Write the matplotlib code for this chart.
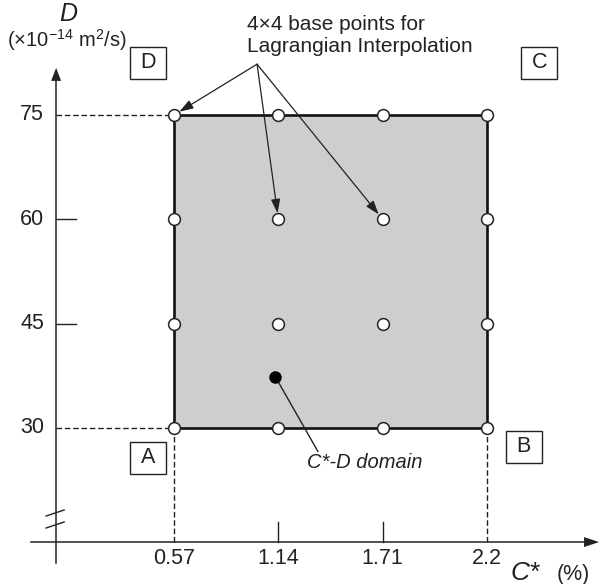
import numpy as np
import matplotlib.pyplot as plt
from matplotlib.patches import Rectangle, FancyArrow

plt.rcParams['font.family'] = ['Liberation Sans', 'DejaVu Sans']
plt.rcParams['mathtext.fontset'] = 'custom'
plt.rcParams['mathtext.rm'] = 'Liberation Sans'
plt.rcParams['mathtext.it'] = 'Liberation Sans:italic'
plt.rcParams['mathtext.default'] = 'regular'

# grid of base points (C* drawn at equal spacing, labelled with the real values)
c_pos = [0, 1, 2, 3]
c_labels = ['0.57', '1.14', '1.71', '2.2']
d_values = [30, 45, 60, 75]
d_labels = ['30', '45', '60', '75']

# the single point inside the domain
dot_c = 0.97
dot_d = 37.4

corner_names = ['A', 'B', 'C', 'D']
corner_c = [-0.25, 3.35, 3.5, -0.25]
corner_d = [25.7, 27.3, 82.5, 82.5]

INK = '#222222'

fig = plt.figure(figsize=(6, 5.84), dpi=100)
ax = fig.add_axes([0, 0, 1, 1])
ax.set_xlim(-1.668, 4.083)
ax.set_ylim(7.57, 91.53)
ax.axis('off')

px_x = 1 / 104.33   # data units per pixel, horizontal
px_y = 1 / 6.9556   # data units per pixel, vertical

x_axis_y = 13.6
y_axis_x = -1.13

# shaded domain
rect = Rectangle((c_pos[0], d_values[0]), c_pos[-1] - c_pos[0], d_values[-1] - d_values[0],
                 facecolor='#cecece', edgecolor='#111111', lw=1.9, zorder=2)
ax.add_patch(rect)

# axes with arrows
ax.plot([-1.371, 3.95], [x_axis_y, x_axis_y], color=INK, lw=1.1, zorder=1)
ax.add_patch(FancyArrow(3.93, x_axis_y, 15 * px_x, 0, width=0, head_width=10 * px_y,
                        head_length=15 * px_x, length_includes_head=True, color=INK, lw=0))
ax.plot([y_axis_x, y_axis_x], [10.6, 80], color=INK, lw=1.1, zorder=1)
ax.add_patch(FancyArrow(y_axis_x, 79.9, 0, 13 * px_y, width=0, head_width=10 * px_x,
                        head_length=13 * px_y, length_includes_head=True, color=INK, lw=0))

# axis break marks
for yb in [513, 525]:
    v = 30 - (yb - 428) * px_y
    ax.plot([y_axis_x - 10 * px_x, y_axis_x + 8 * px_x], [v - 3 * px_y, v + 3 * px_y],
            color=INK, lw=1.0, zorder=3)

# dashed guide lines and short ticks
for v in [d_values[0], d_values[-1]]:
    ax.plot([y_axis_x, c_pos[0]], [v, v], color=INK, lw=1.0, ls=(0, (4, 2)), zorder=1)
for v in d_values[1:3]:
    ax.plot([y_axis_x, y_axis_x + 20 * px_x], [v, v], color=INK, lw=1.0, zorder=1)
for c in [c_pos[0], c_pos[-1]]:
    ax.plot([c, c], [x_axis_y, d_values[0]], color=INK, lw=1.0, ls=(0, (4, 2)), zorder=1)
for c in c_pos[1:3]:
    ax.plot([c, c], [x_axis_y, x_axis_y + 20 * px_y], color=INK, lw=1.0, zorder=1)

# tick labels
for v, lab in zip(d_values, d_labels):
    ax.text(y_axis_x - 12 * px_x, v, lab, ha='right', va='center', fontsize=15.5, color=INK)
for c, lab in zip(c_pos, c_labels):
    ax.text(c, x_axis_y - 16 * px_y, lab, ha='center', va='center', fontsize=15.5, color=INK)

# axis titles
ax.text(y_axis_x + 12 * px_x, x_axis_y + (542 - 14) * px_y, 'D', style='italic',
        ha='center', va='center', fontsize=18, color=INK)
ax.text(y_axis_x + 11 * px_x, x_axis_y + (542 - 40) * px_y, r'(×10$^{-14}$ m$^{2}$/s)',
        ha='center', va='center', fontsize=14.5, color=INK)
ax.text(3.37, x_axis_y - 31 * px_y, 'C*', style='italic', ha='center', va='center',
        fontsize=19, color=INK)
ax.text(3.83, x_axis_y - 32 * px_y, '(%)', ha='center', va='center', fontsize=15.5, color=INK)

# base points
cc, dd = np.meshgrid(c_pos, d_values)
ax.plot(cc.ravel(), dd.ravel(), 'o', ms=8.5, mfc='white', mec=INK, mew=1.1, zorder=4)
ax.plot(dot_c, dot_d, 'o', ms=8, color='black', zorder=4)

# corner boxes
bw = 36 * px_x
bh = 32 * px_y
for name, c, v in zip(corner_names, corner_c, corner_d):
    ax.add_patch(Rectangle((c - bw / 2, v - bh / 2), bw, bh, facecolor='white',
                           edgecolor=INK, lw=1.0, zorder=3))
    ax.text(c, v, name, ha='center', va='center', fontsize=15.5, color=INK, zorder=4)

# annotation for the base points
src = (0.796, 82.3)
ax.text(0.70, 30 + (428 - 25) * px_y, '4×4 base points for', ha='left', va='center',
        fontsize=15, color=INK)
ax.text(0.70, 30 + (428 - 47) * px_y, 'Lagrangian Interpolation', ha='left', va='center',
        fontsize=15, color=INK)
for c, v in [(c_pos[0], d_values[-1]), (c_pos[1], d_values[2]), (c_pos[2], d_values[2])]:
    ax.annotate('', xy=(c, v), xytext=src,
                arrowprops=dict(arrowstyle='-|>,head_length=0.6,head_width=0.2',
                                color=INK, lw=0.9, shrinkA=0, shrinkB=4.5,
                                mutation_scale=14), zorder=5)

# domain label
ax.annotate('', xy=(dot_c, dot_d), xytext=(1.38, 26.6),
            arrowprops=dict(arrowstyle='-', color=INK, lw=1.0, shrinkA=0, shrinkB=3))
ax.text(1.27, 25.0, 'C*-D domain', style='italic', ha='left', va='center',
        fontsize=14.5, color=INK)

plt.savefig('out.png', dpi=100)
plt.close()
